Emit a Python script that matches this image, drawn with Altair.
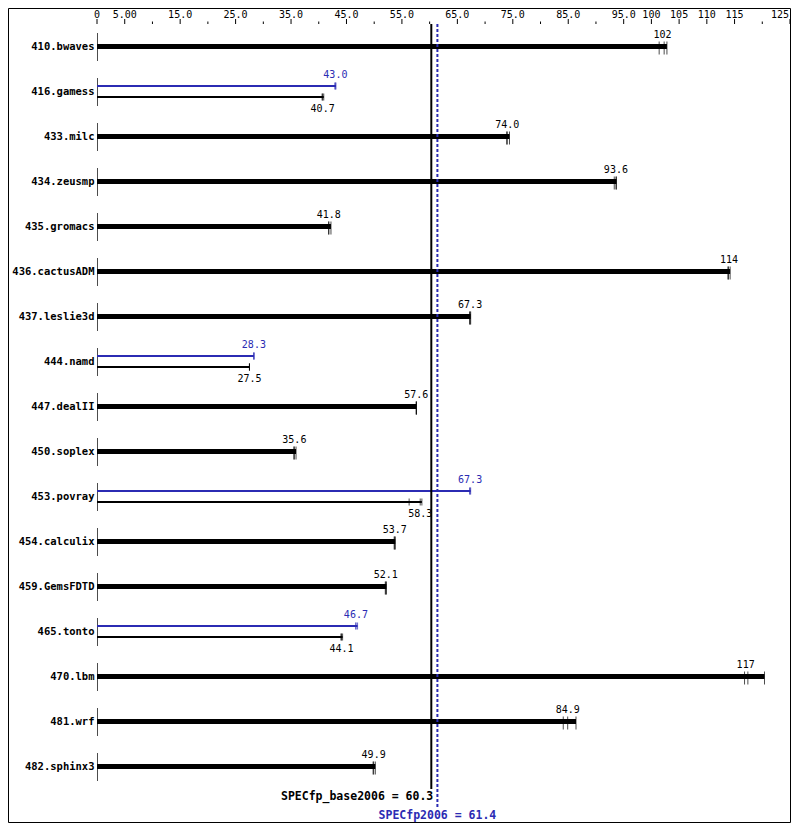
import altair as alt
import pandas as pd

# ---------------- data ----------------
benchmarks = ["410.bwaves", "416.gamess", "433.milc", "434.zeusmp", "435.gromacs",
              "436.cactusADM", "437.leslie3d", "444.namd", "447.dealII", "450.soplex",
              "453.povray", "454.calculix", "459.GemsFDTD", "465.tonto", "470.lbm",
              "481.wrf", "482.sphinx3"]
base_score = [102, 40.7, 74.0, 93.6, 41.8, 114, 67.3, 27.5, 57.6, 35.6,
              58.3, 53.7, 52.1, 44.1, 117, 84.9, 49.9]
peak_score = [102, 43.0, 74.0, 93.6, 41.8, 114, 67.3, 28.3, 57.6, 35.6,
              67.3, 53.7, 52.1, 46.7, 117, 84.9, 49.9]
base_runs = [[101.4, 102.3, 102.8], [40.6, 40.7, 40.9], [73.9, 74.0, 74.4],
             [93.3, 93.6, 93.7], [41.8, 41.8, 42.2], [113.8, 113.9, 114.2],
             [67.2, 67.3, 67.4], [27.5, 27.5, 27.5], [57.6, 57.6, 57.6],
             [35.5, 35.6, 35.9], [56.3, 58.3, 58.6], [53.6, 53.7, 53.8],
             [52.0, 52.1, 52.2], [44.0, 44.1, 44.3], [116.8, 117.4, 120.4],
             [84.1, 84.9, 86.4], [49.8, 49.9, 50.2]]
peak_runs = [[101.4, 102.3, 102.8], [42.9, 43.0, 43.1], [73.9, 74.0, 74.4],
             [93.3, 93.6, 93.7], [41.8, 41.8, 42.2], [113.8, 113.9, 114.2],
             [67.2, 67.3, 67.4], [28.3, 28.3, 28.3], [57.6, 57.6, 57.6],
             [35.5, 35.6, 35.9], [67.2, 67.3, 67.4], [53.6, 53.7, 53.8],
             [52.0, 52.1, 52.2], [46.7, 46.7, 47.0], [116.8, 117.4, 120.4],
             [84.1, 84.9, 86.4], [49.8, 49.9, 50.2]]
base_overall = 60.3
peak_overall = 61.4
major_ticks = [0, 5, 15, 25, 35, 45, 55, 65, 75, 85, 95, 100, 105, 110, 115, 125]
minor_ticks = [10, 20, 30, 40, 50, 60, 70, 80, 90, 120]
tick_labels = ["0", "5.00", "15.0", "25.0", "35.0", "45.0", "55.0", "65.0", "75.0",
               "85.0", "95.0", "100", "105", "110", "115", "125"]

BLUE = "#2b2bb3"
MONO = "DejaVu Sans Mono"


def fmt(v):
    return str(int(round(v))) if v >= 100 else f"{v:.1f}"


rows = pd.DataFrame({
    "bench": benchmarks,
    "base": base_score,
    "peak": peak_score,
    "base_end": [max(r) for r in base_runs],
    "peak_end": [max(r) for r in peak_runs],
})
rows["zero"] = 0
rows["split"] = [(b != p) or (br != pr) for b, p, br, pr in
                 zip(base_score, peak_score, base_runs, peak_runs)]
rows["base_txt"] = [fmt(v) for v in base_score]
rows["peak_txt"] = [fmt(v) for v in peak_score]
single = rows[~rows["split"]]
split = rows[rows["split"]]

run_recs = []
for i, b in enumerate(benchmarks):
    sp = bool(rows["split"].iloc[i])
    for v in base_runs[i]:
        run_recs.append({"bench": b, "v": v, "kind": "base" if sp else "single"})
    if sp:
        for v in peak_runs[i]:
            run_recs.append({"bench": b, "v": v, "kind": "peak"})
runs = pd.DataFrame(run_recs)

W, H = 693, 765
xs = alt.Scale(domain=[0, 125], nice=False, zero=True)
y_enc = alt.Y("bench:N", sort=benchmarks,
              scale=alt.Scale(domain=benchmarks, paddingInner=0, paddingOuter=0),
              axis=alt.Axis(title=None, domain=False, ticks=False, labelFont=MONO,
                            labelFontWeight="bold", labelFontSize=10.5,
                            labelColor="black", labelPadding=3))


def X(field):
    return alt.X(field, scale=xs, axis=None)


frame = alt.Chart(pd.DataFrame({"a": [0]})).mark_rect(
    filled=False, stroke="black", strokeWidth=1).encode(
    x=alt.value(-88.5), x2=alt.value(W + 0.5), y=alt.value(-15.5), y2=alt.value(H + 33.5))

maj = alt.Chart(pd.DataFrame({"v": major_ticks})).mark_rule(color="black").encode(
    x=X("v:Q"), y=alt.value(-5), y2=alt.value(0))
mino = alt.Chart(pd.DataFrame({"v": minor_ticks})).mark_rule(color="black").encode(
    x=X("v:Q"), y=alt.value(-2.5), y2=alt.value(0))
lab_df = pd.DataFrame({"v": major_ticks, "t": tick_labels})
labs = alt.Chart(lab_df.iloc[:-1]).mark_text(
    font=MONO, fontSize=10, baseline="alphabetic", align="center", color="black").encode(
    x=X("v:Q"), y=alt.value(-6.5), text="t:N")
lab_last = alt.Chart(lab_df.iloc[-1:]).mark_text(
    font=MONO, fontSize=10, baseline="alphabetic", align="right", dx=-1, color="black").encode(
    x=X("v:Q"), y=alt.value(-6.5), text="t:N")

zero_lines = alt.Chart(rows).mark_tick(
    orient="vertical", size=28, thickness=1, color="black", yOffset=0.5, xOffset=0.5).encode(
    x=X("zero:Q"), y=y_enc)

thick = alt.Chart(single).mark_rule(strokeWidth=5, color="black", strokeCap="butt").encode(
    x=X("zero:Q"), x2="base_end:Q", y=y_enc)
thin_base = alt.Chart(split).mark_rule(strokeWidth=2, color="black", strokeCap="butt",
                                       yOffset=5.5).encode(
    x=X("zero:Q"), x2="base_end:Q", y=y_enc)
thin_peak = alt.Chart(split).mark_rule(strokeWidth=2, color=BLUE, strokeCap="butt",
                                       yOffset=-5.5).encode(
    x=X("zero:Q"), x2="peak_end:Q", y=y_enc)

t_single = alt.Chart(runs[runs.kind == "single"]).mark_tick(
    orient="vertical", size=13, thickness=1, color="black", yOffset=1.5).encode(
    x=X("v:Q"), y=y_enc)
t_base = alt.Chart(runs[runs.kind == "base"]).mark_tick(
    orient="vertical", size=7, thickness=1, color="black", yOffset=5.5).encode(
    x=X("v:Q"), y=y_enc)
t_peak = alt.Chart(runs[runs.kind == "peak"]).mark_tick(
    orient="vertical", size=7, thickness=1, color=BLUE, yOffset=-5.5).encode(
    x=X("v:Q"), y=y_enc)

txt_single = alt.Chart(single).mark_text(
    font=MONO, fontSize=10, baseline="middle", dy=-12, color="black").encode(
    x=X("base:Q"), y=y_enc, text="base_txt:N")
txt_peak = alt.Chart(split).mark_text(
    font=MONO, fontSize=10, baseline="middle", dy=-17, color=BLUE).encode(
    x=X("peak:Q"), y=y_enc, text="peak_txt:N")
txt_base = alt.Chart(split).mark_text(
    font=MONO, fontSize=10, baseline="middle", dy=17.5, color="black").encode(
    x=X("base:Q"), y=y_enc, text="base_txt:N")

ref_df = pd.DataFrame({
    "v": [base_overall, peak_overall],
    "t": [f"SPECfp_base2006 = {base_overall}", f"SPECfp2006 = {peak_overall}"],
})
ref_base = alt.Chart(ref_df.iloc[:1]).mark_rule(color="black", strokeWidth=2).encode(
    x=X("v:Q"), y=alt.value(0), y2=alt.value(H))
ref_peak = alt.Chart(ref_df.iloc[1:]).mark_rule(color=BLUE, strokeWidth=2,
                                                strokeDash=[3, 2]).encode(
    x=X("v:Q"), y=alt.value(0), y2=alt.value(H + 19))
ref_base_t = alt.Chart(ref_df.iloc[:1]).mark_text(
    font=MONO, fontSize=11.5, fontWeight="bold", align="right", baseline="middle",
    dx=2, color="black").encode(x=X("v:Q"), y=alt.value(H + 8), text="t:N")
ref_peak_t = alt.Chart(ref_df.iloc[1:]).mark_text(
    font=MONO, fontSize=11.5, fontWeight="bold", align="center", baseline="middle",
    color=BLUE).encode(x=X("v:Q"), y=alt.value(H + 27), text="t:N")

chart = alt.layer(
    frame, maj, mino, labs, lab_last, zero_lines,
    thick, thin_base, thin_peak, t_single, t_base, t_peak,
    txt_single, txt_peak, txt_base,
    ref_base, ref_peak, ref_base_t, ref_peak_t,
).properties(
    width=W, height=H,
    autosize=alt.AutoSizeParams(type="none"),
    padding={"left": 89, "top": 16, "right": 1, "bottom": 34},
    background="white",
).configure_view(stroke=None)

chart.save("out.html", embed_options={"renderer": "svg", "actions": False})
